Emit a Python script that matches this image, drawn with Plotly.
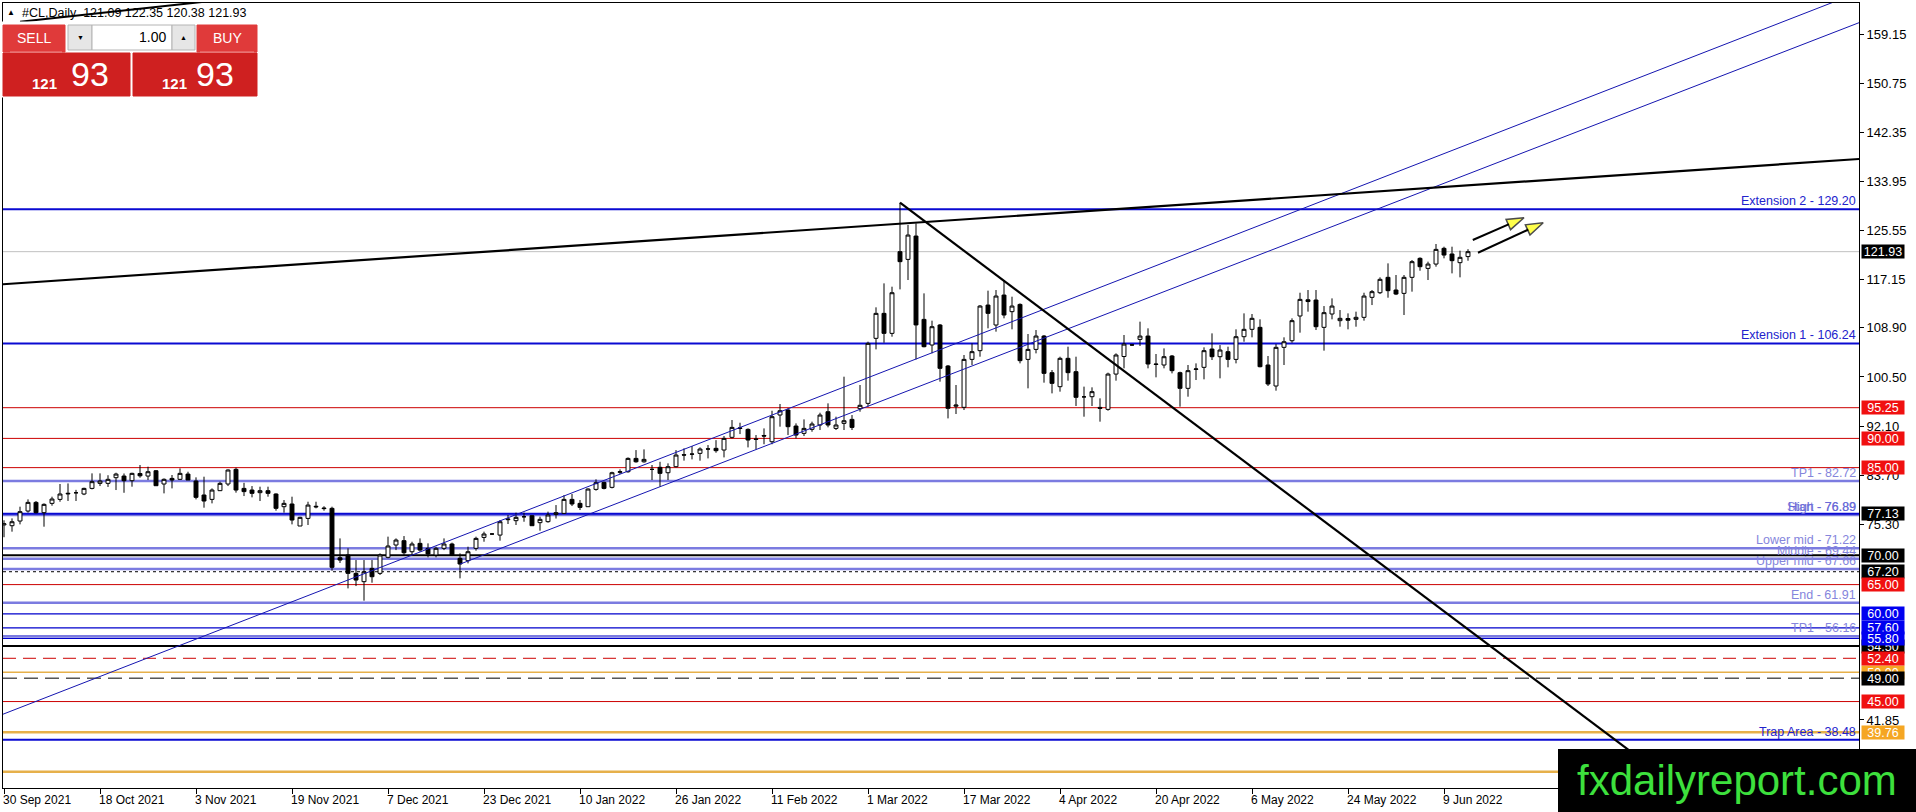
import plotly.graph_objects as go

# ---------------- data ----------------
OPEN = [75.2, 75.07, 75.87, 77.58, 79.06, 77.3, 78.89, 79.57, 80.5, 80.7,
        80.49, 81.45, 82.31, 82.31, 83.28, 83.56, 82.77, 84.0, 83.56, 84.47,
        82.2, 83.16, 83.0, 83.9, 82.71, 80.32, 79.57, 81.06, 82.2, 84.7,
        81.45, 81.17, 80.72, 81.06, 80.49, 78.32, 78.78, 75.02, 76.32, 78.4,
        78.1, 78.04, 69.6, 70.06, 66.92, 65.5, 67.77, 66.92, 69.66, 71.77,
        72.51, 70.62, 72.05, 71.2, 70.06, 71.2, 71.94, 69.49, 69.09, 71.2,
        73.07, 73.65, 73.47, 76.1, 75.93, 76.6, 76.78, 75.59, 75.76, 77.0,
        77.18, 79.57, 78.89, 78.32, 81.28, 82.48, 81.63, 84.2, 84.3, 86.58,
        86.0, 84.7, 85.05, 84.13, 85.16, 87.2, 87.3, 87.44, 88.2, 88.3,
        88.01, 90.18, 91.8, 91.54, 89.9, 90.5, 89.43, 94.0, 94.85, 92.11,
        90.86, 91.55, 92.29, 94.56, 91.71, 92.57, 93.25, 95.08, 95.99, 107.11,
        111.38, 107.96, 121.93, 120.61, 124.6, 110.35, 105.97, 109.39, 102.38, 95.5,
        95.31, 103.51, 105.0, 112.8, 109.39, 114.51, 111.67, 112.91, 103.51, 105.22,
        107.5, 101.24, 98.84, 103.69, 101.41, 97.1, 97.13, 95.3, 94.96, 101.0,
        104.0, 106.0, 106.93, 107.5, 102.72, 102.55, 104.09, 101.24, 98.56, 101.8,
        102.15, 105.28, 103.97, 104.83, 103.51, 107.39, 108.65, 108.99, 102.55, 98.96,
        105.57, 106.7, 110.93, 113.7, 113.66, 108.99, 111.27, 110.13, 110.5, 110.36,
        110.7, 114.12, 114.91, 117.54, 115.37, 114.8, 117.54, 120.79, 119.07, 119.81,
        122.5, 121.53, 120.05, 121.09]
HIGH = [76.0, 76.32, 78.32, 79.57, 79.29, 78.89, 80.03, 82.2, 82.3, 81.2,
        81.57, 84.02, 84.02, 83.7, 84.13, 84.0, 84.13, 85.45, 85.16, 84.59,
        83.16, 83.74, 84.87, 84.3, 83.34, 83.45, 81.45, 82.6, 84.7, 84.99,
        82.4, 81.85, 81.74, 81.74, 80.6, 79.46, 80.03, 76.6, 79.17, 79.17,
        78.4, 78.32, 72.9, 71.2, 69.2, 69.2, 69.2, 70.34, 73.2, 72.9,
        73.3, 72.33, 72.9, 72.05, 71.48, 72.9, 72.17, 70.34, 71.48, 73.19,
        74.05, 73.8, 76.04, 76.9, 77.3, 77.3, 76.9, 76.61, 77.47, 78.6,
        80.3, 80.49, 79.46, 81.45, 83.0, 82.6, 84.3, 84.7, 86.75, 88.0,
        88.12, 85.45, 86.0, 85.73, 88.0, 88.3, 88.7, 88.46, 88.86, 89.7,
        90.4, 93.14, 92.68, 91.71, 90.57, 91.71, 94.73, 95.88, 95.14, 92.57,
        93.25, 92.86, 94.39, 95.99, 93.71, 100.55, 93.99, 99.13, 106.54, 112.41,
        116.51, 115.94, 130.3, 126.5, 126.77, 114.8, 110.13, 109.56, 102.55, 99.13,
        104.26, 106.25, 112.8, 115.26, 115.37, 117.08, 114.23, 113.09, 107.85, 108.53,
        107.68, 101.69, 103.97, 105.68, 103.97, 98.85, 98.73, 96.85, 101.24, 104.54,
        107.68, 106.1, 109.96, 108.82, 104.43, 105.39, 104.26, 101.41, 102.55, 102.83,
        105.57, 107.96, 105.96, 105.68, 108.65, 111.38, 111.27, 110.36, 104.09, 106.13,
        107.28, 110.53, 114.91, 115.37, 115.37, 112.63, 113.94, 111.95, 111.38, 111.67,
        114.91, 115.37, 117.54, 119.93, 117.94, 117.94, 120.5, 120.96, 120.22, 123.24,
        122.78, 122.78, 122.1, 122.35]
LOW = [73.1, 74.05, 75.3, 77.3, 77.18, 74.9, 78.49, 79.17, 79.3, 79.3,
       80.3, 81.28, 81.85, 81.7, 81.17, 80.7, 81.74, 83.28, 82.88, 81.91,
       80.6, 81.45, 82.88, 82.88, 79.57, 78.15, 78.89, 81.0, 81.85, 80.72,
       80.14, 79.92, 79.29, 80.03, 77.64, 77.3, 75.3, 75.02, 75.19, 78.04,
       77.64, 67.38, 68.7, 64.35, 64.75, 62.25, 65.32, 66.64, 69.49, 70.9,
       70.05, 70.05, 70.62, 69.66, 69.66, 70.9, 69.88, 66.07, 68.63, 70.8,
       72.33, 73.5, 72.51, 75.36, 75.19, 75.75, 75.07, 74.22, 75.59, 76.3,
       77.07, 78.43, 77.75, 78.32, 81.06, 81.28, 81.45, 83.9, 84.13, 85.85,
       85.85, 82.88, 81.74, 82.88, 85.05, 86.2, 86.41, 86.19, 86.58, 87.55,
       86.75, 90.0, 90.74, 88.46, 88.12, 89.0, 89.0, 92.0, 90.57, 90.0,
       90.4, 91.14, 91.43, 91.89, 91.43, 91.43, 91.43, 94.56, 95.42, 105.22,
       106.36, 107.39, 115.48, 117.08, 103.5, 105.57, 104.54, 99.7, 93.42, 94.17,
       94.85, 102.55, 103.97, 108.82, 108.25, 110.53, 108.65, 102.83, 98.56, 104.54,
       99.53, 97.7, 97.99, 99.87, 95.54, 93.71, 95.54, 92.86, 94.73, 99.87,
       101.98, 105.8, 105.8, 101.98, 100.44, 101.98, 101.12, 95.42, 97.13, 99.98,
       100.1, 103.4, 100.27, 102.15, 102.83, 106.53, 107.28, 102.15, 98.96, 98.16,
       102.55, 106.36, 108.08, 111.67, 108.53, 105.0, 110.36, 109.1, 108.65, 109.1,
       110.13, 112.8, 114.68, 114.06, 114.51, 111.1, 115.09, 118.67, 117.08, 119.36,
       120.79, 118.22, 117.54, 120.38]
CLOSE = [75.4, 75.75, 77.47, 79.06, 77.3, 78.72, 79.63, 80.49, 80.6, 80.7,
         81.45, 82.6, 82.71, 83.0, 83.9, 82.77, 84.02, 83.6, 84.3, 81.91,
         83.0, 82.88, 84.02, 82.88, 79.92, 79.29, 81.17, 82.31, 84.59, 81.17,
         80.9, 80.6, 81.06, 80.6, 78.04, 78.89, 76.04, 76.5, 78.6, 78.3,
         78.0, 67.95, 69.2, 66.92, 65.78, 67.2, 66.35, 70.06, 71.6, 72.62,
         70.45, 71.94, 70.9, 70.23, 71.2, 71.94, 70.06, 68.52, 70.62, 72.9,
         73.65, 73.65, 75.75, 76.2, 76.5, 76.6, 75.07, 76.16, 76.9, 77.3,
         79.57, 78.78, 78.2, 81.34, 82.43, 81.45, 84.13, 84.3, 86.58, 86.0,
         86.41, 84.7, 84.02, 85.16, 87.15, 87.15, 87.32, 88.18, 88.18, 87.9,
         90.0, 91.88, 91.7, 89.72, 89.84, 90.4, 93.71, 94.73, 92.0, 90.57,
         91.71, 92.46, 93.99, 92.29, 92.29, 93.02, 91.88, 95.66, 106.25, 111.38,
         107.96, 114.91, 120.22, 124.77, 109.4, 105.68, 109.1, 101.98, 95.14, 95.7,
         103.51, 104.83, 112.63, 111.38, 114.34, 111.1, 112.63, 103.29, 105.22, 107.5,
         101.12, 99.41, 103.69, 101.24, 97.02, 97.1, 97.99, 95.14, 101.0, 104.26,
         106.13, 105.97, 107.5, 102.72, 102.66, 103.97, 101.58, 98.56, 101.58, 101.87,
         105.0, 103.97, 105.11, 103.51, 107.39, 108.65, 110.53, 102.26, 99.3, 105.57,
         106.53, 110.13, 113.77, 113.4, 109.1, 111.5, 112.63, 110.53, 110.2, 110.7,
         114.34, 115.09, 117.2, 115.26, 114.68, 117.54, 120.22, 119.36, 119.81, 122.32,
         121.35, 120.39, 120.96, 121.93]
BAR = list(range(len(OPEN)))

DATE_TICKS = list(range(0, 181, 12))
DATE_LABELS = ["30 Sep 2021", "18 Oct 2021", "3 Nov 2021", "19 Nov 2021",
               "7 Dec 2021", "23 Dec 2021", "10 Jan 2022", "26 Jan 2022",
               "11 Feb 2022", "1 Mar 2022", "17 Mar 2022", "4 Apr 2022",
               "20 Apr 2022", "6 May 2022", "24 May 2022", "9 Jun 2022"]
PRICE_TICKS = [159.15, 150.75, 142.35, 133.95, 125.55, 117.15, 108.90,
               100.50, 92.10, 83.70, 75.30, 41.85]

# horizontal levels
CURRENT = 121.93
EXT_LEVELS = [129.20, 106.24, 77.13, 38.48]
MID_LEVELS = [82.72, 76.89, 71.22, 69.44, 67.66, 61.91, 56.16]
RED_LEVELS = [95.25, 90.00, 85.00, 65.00, 45.00]
BLUE_LEVELS = [60.00, 57.60, 55.80]
BLACK_LEVELS = [70.00, 54.50]
ORANGE_LEVELS = [50.00, 39.76, 33.00]
DOTTED_LEVEL = 67.20
RED_DASH_LEVEL = 52.40
BLACK_DASH_LEVEL = 49.00

LEVEL_NAMES = ["Extension 2", "Extension 1", "TP1", "Start", "High", "Lower mid",
               "Middle", "Upper mid", "End", "TP1", "Trap Area"]
LEVEL_PRICES = [129.20, 106.24, 82.72, 76.89, 76.89, 71.22, 69.44, 67.66,
                61.91, 56.16, 38.48]

# price tags on the right axis (drawn in this order)
TAG_PRICES = [121.93, 95.25, 90.00, 85.00, 77.13, 70.00, 67.20, 65.00, 60.00,
              57.60, 54.50, 50.00, 55.80, 52.40, 49.00, 45.00, 39.76]
TAG_KIND = ["k", "r", "r", "r", "k", "k", "k", "r", "b",
            "b", "k", "o", "b", "r", "k", "r", "o"]

# trend lines (bar index, price)
RES_X, RES_Y = [-1, 233], [116.28, 137.88]
DOWN_X, DOWN_Y = [112, 225], [130.3, 14.2]
CH_UP_X, CH_UP_Y = [-1, 232], [42.37, 166.37]
CH_LO_X, CH_LO_Y = [57, 232], [68.5, 161.15]
TOPLEFT_X, TOPLEFT_Y = [2, 30], [161.25, 165.4]
ARROW1_X, ARROW1_Y = [183.6, 190.0], [123.92, 127.74]
ARROW2_X, ARROW2_Y = [184.25, 192.4], [121.75, 126.88]

# ---------------- styling ----------------
W, H = 1916, 812
L, R, T, B = 3, 1859, 3, 788
FONT = "Liberation Sans, Arial, sans-serif"
BLUE = "#0a0ad2"
LAV = "#7b7be0"
RED = "#cc0000"
ORANGE = "#e6b04a"
TAG_COLORS = {"k": "#000000", "r": "#f01010", "b": "#0000f0", "o": "#f5a623"}


def px(x):
    return (x - L) / (R - L)


def py(y):
    return (B - y) / (B - T)


fig = go.Figure()

shapes = []


def hline(y, color, width, dash="solid"):
    shapes.append(dict(type="line", xref="paper", x0=0, x1=1, yref="y", y0=y, y1=y,
                       line=dict(color=color, width=width, dash=dash), layer="below"))


hline(ORANGE_LEVELS[0], ORANGE, 1.5)
for v in ORANGE_LEVELS[1:]:
    hline(v, ORANGE, 2.5)
for v in RED_LEVELS:
    hline(v, RED, 1)
for v in BLUE_LEVELS:
    hline(v, "#0000cc", 1.2)
for v in MID_LEVELS:
    hline(v, LAV, 2.5)
for v in EXT_LEVELS:
    hline(v, BLUE, 2)
for v in BLACK_LEVELS:
    hline(v, "#000000", 2)
hline(DOTTED_LEVEL, "#000000", 1, "3px,3px")
hline(RED_DASH_LEVEL, RED, 1, "13px,7px")
hline(BLACK_DASH_LEVEL, "#000000", 1, "14px,7px")
hline(CURRENT, "#c0c0c0", 1)

# trend lines
for xs, ys, col, wd in [(CH_UP_X, CH_UP_Y, "#1515b0", 1), (CH_LO_X, CH_LO_Y, "#1515b0", 1),
                        (RES_X, RES_Y, "#000000", 2.2), (DOWN_X, DOWN_Y, "#000000", 2.2),
                        (TOPLEFT_X, TOPLEFT_Y, "#000000", 2)]:
    fig.add_trace(go.Scatter(x=xs, y=ys, mode="lines", line=dict(color=col, width=wd),
                             showlegend=False, hoverinfo="skip"))

fig.add_trace(go.Candlestick(
    x=BAR, open=OPEN, high=HIGH, low=LOW, close=CLOSE,
    increasing=dict(fillcolor="#ffffff", line=dict(color="#000000", width=1)),
    decreasing=dict(fillcolor="#000000", line=dict(color="#000000", width=1)),
    whiskerwidth=0, showlegend=False, hoverinfo="skip"))

for xs, ys in [(ARROW1_X, ARROW1_Y), (ARROW2_X, ARROW2_Y)]:
    fig.add_trace(go.Scatter(
        x=xs, y=ys, mode="lines+markers", line=dict(color="#000000", width=2),
        marker=dict(symbol=["circle", "arrow"], size=[0, 18], color="#ffff00",
                    angleref="previous", line=dict(color="#000000", width=1.5)),
        showlegend=False, hoverinfo="skip"))

annotations = []

# level captions
for name, p in zip(LEVEL_NAMES, LEVEL_PRICES):
    col = "#2222cc" if name in ("Extension 2", "Extension 1", "Trap Area") else "#8585dc"
    if name == "High":
        col = "#6a6ad8"
    annotations.append(dict(xref="paper", x=1, xanchor="right", xshift=-1, yref="y", y=p,
                            yanchor="bottom", yshift=-1, text=f"{name} - {p:.2f}",
                            showarrow=False, font=dict(family=FONT, size=12.5, color=col)))

# date labels
for t, lab in zip(DATE_TICKS, DATE_LABELS):
    annotations.append(dict(xref="x", x=t, xanchor="left", xshift=-3, yref="paper", y=0,
                            yanchor="top", yshift=-3, text=lab, showarrow=False,
                            font=dict(family=FONT, size=12, color="#000000")))

# price tags
for p, k in zip(TAG_PRICES, TAG_KIND):
    annotations.append(dict(xref="paper", x=px(1861), xanchor="left", yref="y", y=p,
                            yanchor="middle", text=f"{p:.2f}", showarrow=False,
                            width=42, height=13, bgcolor=TAG_COLORS[k], borderpad=0,
                            font=dict(family=FONT, size=12.5, color="#ffffff")))

# header
annotations.append(dict(xref="paper", x=px(5), xanchor="left", yref="paper", y=py(13),
                        yanchor="middle", text="▲", showarrow=False,
                        font=dict(family=FONT, size=8, color="#000000")))
annotations.append(dict(xref="paper", x=px(20), xanchor="left", yref="paper", y=py(13),
                        yanchor="middle",
                        text=f"#CL,Daily  {OPEN[-1]:.2f} {HIGH[-1]:.2f} {LOW[-1]:.2f} {CLOSE[-1]:.2f}",
                        showarrow=False, font=dict(family=FONT, size=12.5, color="#000000")))

# one-click trading panel
def box(x0, y0, x1, y1, fill, line=None):
    shapes.append(dict(type="rect", xref="paper", yref="paper", x0=px(x0), x1=px(x1),
                       y0=py(y1), y1=py(y0), fillcolor=fill, layer="above",
                       line=dict(color=line or fill, width=1)))


box(2, 22, 259, 97, "#ffffff")
box(3, 25, 65, 52, "#e03a3a")
box(197, 25, 257, 52, "#e03a3a")
box(68, 25, 92, 50, "#e6e6e6", "#b4b4b4")
box(92, 25, 172, 50, "#ffffff", "#b4b4b4")
box(172, 25, 195, 50, "#e6e6e6", "#b4b4b4")
box(3, 53, 130, 96, "#cf2020")
box(133, 53, 257, 96, "#cf2020")
shapes.append(dict(type="line", xref="paper", yref="paper", x0=px(10), x1=px(62),
                   y0=py(52), y1=py(52), line=dict(color="#f08a8a", width=1), layer="above"))
shapes.append(dict(type="line", xref="paper", yref="paper", x0=px(200), x1=px(254),
                   y0=py(52), y1=py(52), line=dict(color="#f08a8a", width=1), layer="above"))


def label(x, y, text, size, color="#ffffff", xanchor="center", bold=False):
    if bold:
        text = f"<b>{text}</b>"
    annotations.append(dict(xref="paper", x=px(x), xanchor=xanchor, yref="paper", y=py(y),
                            yanchor="middle", text=text, showarrow=False,
                            font=dict(family=FONT, size=size, color=color)))


price_int, price_frac = f"{CLOSE[-1]:.2f}".split(".")
label(34, 38.5, "SELL", 14)
label(227, 38.5, "BUY", 14)
label(80, 38, "▼", 7, "#000000")
label(183, 38, "▲", 7, "#000000")
label(168, 37.5, "1.00", 14, "#000000", "right")
label(59, 84, price_int, 15, xanchor="right", bold=True)
label(69, 74, price_frac, 34, xanchor="left")
label(189, 84, price_int, 15, xanchor="right", bold=True)
label(194, 74, price_frac, 34, xanchor="left")

# watermark
shapes.append(dict(type="rect", xref="paper", yref="paper", x0=px(1558), x1=px(1920),
                   y0=py(816), y1=py(749), fillcolor="#000000", line=dict(width=0),
                   layer="above"))
annotations.append(dict(xref="paper", x=px(1737), xanchor="center", yref="paper", y=py(780),
                        yanchor="middle", text="fxdailyreport.com", showarrow=False,
                        font=dict(family=FONT, size=42, color="#3de03d")))

fig.update_layout(
    width=W, height=H,
    margin=dict(l=L, r=W - R, t=T, b=H - B),
    paper_bgcolor="#ffffff", plot_bgcolor="#ffffff",
    shapes=shapes, annotations=annotations,
    hovermode=False, showlegend=False,
    xaxis=dict(range=[-0.125, 231.875], tickvals=DATE_TICKS, showticklabels=False,
               ticks="outside", ticklen=5, tickcolor="#000000", showgrid=False,
               zeroline=False, showline=True, linecolor="#000000", linewidth=1,
               mirror=True, rangeslider=dict(visible=False), fixedrange=True),
    yaxis=dict(range=[30.22, 164.45], side="right", tickvals=PRICE_TICKS,
               ticktext=[f"{v:.2f}" for v in PRICE_TICKS], ticks="outside", ticklen=4,
               tickcolor="#000000", tickfont=dict(family=FONT, size=13, color="#000000"),
               showgrid=False, zeroline=False, showline=True, linecolor="#000000",
               linewidth=1, mirror=True, fixedrange=True),
)

fig.write_html("out.html", config={"displayModeBar": False},
               post_script="document.body.style.margin='0';")
